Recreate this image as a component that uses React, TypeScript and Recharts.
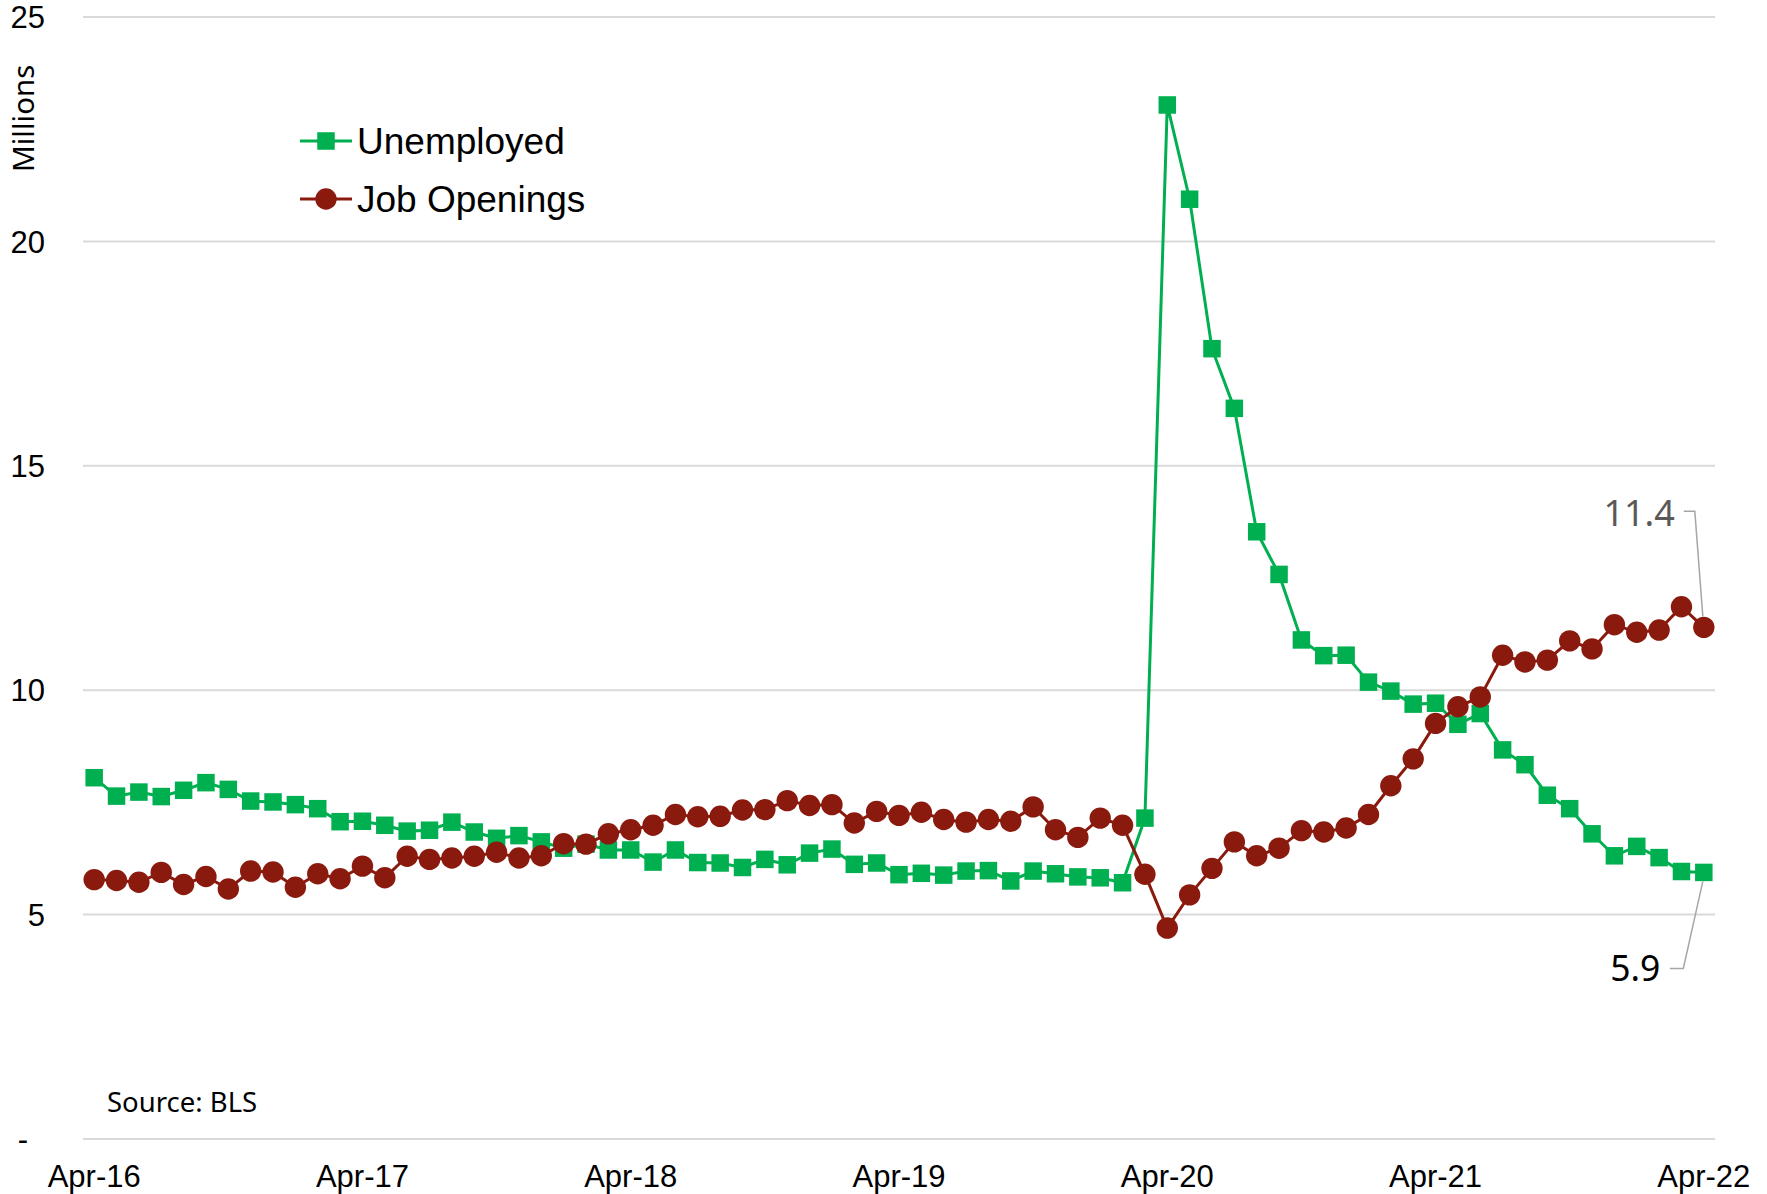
import React from "react";
import {
  LineChart,
  Line,
  XAxis,
  YAxis,
  CartesianGrid,
  LabelList,
} from "recharts";

const months = [
  "Apr-16", "May-16", "Jun-16", "Jul-16", "Aug-16", "Sep-16", "Oct-16", "Nov-16", "Dec-16",
  "Jan-17", "Feb-17", "Mar-17", "Apr-17", "May-17", "Jun-17", "Jul-17", "Aug-17", "Sep-17",
  "Oct-17", "Nov-17", "Dec-17", "Jan-18", "Feb-18", "Mar-18", "Apr-18", "May-18", "Jun-18",
  "Jul-18", "Aug-18", "Sep-18", "Oct-18", "Nov-18", "Dec-18", "Jan-19", "Feb-19", "Mar-19",
  "Apr-19", "May-19", "Jun-19", "Jul-19", "Aug-19", "Sep-19", "Oct-19", "Nov-19", "Dec-19",
  "Jan-20", "Feb-20", "Mar-20", "Apr-20", "May-20", "Jun-20", "Jul-20", "Aug-20", "Sep-20",
  "Oct-20", "Nov-20", "Dec-20", "Jan-21", "Feb-21", "Mar-21", "Apr-21", "May-21", "Jun-21",
  "Jul-21", "Aug-21", "Sep-21", "Oct-21", "Nov-21", "Dec-21", "Jan-22", "Feb-22", "Mar-22",
  "Apr-22",
];

// millions
const unemployed = [
  8.05, 7.64, 7.73, 7.63, 7.77, 7.94, 7.79, 7.53, 7.51, 7.45, 7.36, 7.07,
  7.08, 6.99, 6.86, 6.88, 7.06, 6.84, 6.7, 6.76, 6.62, 6.48, 6.57, 6.44,
  6.44, 6.17, 6.44, 6.16, 6.15, 6.05, 6.23, 6.11, 6.37, 6.46, 6.12, 6.15,
  5.89, 5.92, 5.88, 5.97, 5.98, 5.75, 5.97, 5.91, 5.84, 5.82, 5.71, 7.15,
  23.04, 20.94, 17.61, 16.28, 13.53, 12.58, 11.12, 10.77, 10.78, 10.18, 9.98, 9.69,
  9.71, 9.24, 9.48, 8.67, 8.34, 7.66, 7.36, 6.8, 6.31, 6.52, 6.27, 5.96,
  5.94,
];

const jobOpenings = [
  5.78, 5.76, 5.72, 5.94, 5.67, 5.85, 5.57, 5.97, 5.95, 5.61, 5.91, 5.8,
  6.08, 5.82, 6.3, 6.23, 6.26, 6.3, 6.39, 6.26, 6.31, 6.58, 6.57, 6.8,
  6.89, 6.99, 7.23, 7.18, 7.19, 7.33, 7.34, 7.54, 7.43, 7.45, 7.04, 7.3,
  7.21, 7.28, 7.12, 7.06, 7.12, 7.08, 7.4, 6.89, 6.72, 7.15, 6.99, 5.9,
  4.7, 5.44, 6.03, 6.62, 6.31, 6.48, 6.87, 6.84, 6.93, 7.23, 7.87, 8.47,
  9.26, 9.63, 9.85, 10.78, 10.63, 10.67, 11.1, 10.92, 11.46, 11.29, 11.34, 11.86,
  11.4,
];

const xTickLabels = ["Apr-16", "Apr-17", "Apr-18", "Apr-19", "Apr-20", "Apr-21", "Apr-22"];
const yTicks = [0, 5, 10, 15, 20, 25];

const W = 1767;
const H = 1194;
const GREEN = "#00B050";
const RED = "#8B1A0E";
const ARIAL = "'Liberation Sans', Arial, sans-serif";
const NOTO = "'Noto Sans', 'Open Sans', sans-serif";

const data = months.map((month, i) => ({
  i,
  month,
  unemployed: unemployed[i],
  jobOpenings: jobOpenings[i],
}));

const xTicks = xTickLabels.map((label) => months.indexOf(label));
const last = data.length - 1;

function YTick(props: any) {
  const { x, y, payload } = props;
  const zero = payload.value === 0;
  return (
    <text
      x={zero ? x - 17 : x}
      y={y}
      dy="0.36em"
      textAnchor="end"
      fontFamily={ARIAL}
      fontSize={31}
      fill="#000"
    >
      {zero ? "-" : payload.value}
    </text>
  );
}

function SquareDot(props: any) {
  const { cx, cy, index } = props;
  if (cx == null || cy == null) return <g key={`sq-${index}`} />;
  const s = 17.5;
  return (
    <rect key={`sq-${index}`} x={cx - s / 2} y={cy - s / 2} width={s} height={s} fill={GREEN} />
  );
}

function OpeningsEndLabel(props: any) {
  const { x, y, index, value } = props;
  if (index !== last) return null;
  return (
    <g>
      <polyline
        points={`${x - 20},${y - 116} ${x - 9},${y - 116} ${x - 1},${y - 11}`}
        fill="none"
        stroke="#A6A6A6"
        strokeWidth={1.5}
      />
      <text x={x - 29} y={y - 101} textAnchor="end" fontFamily={NOTO} fontSize={36} fill="#595959">
        {Number(value).toFixed(1)}
      </text>
    </g>
  );
}

function UnemployedEndLabel(props: any) {
  const { x, y, index, value } = props;
  if (index !== last) return null;
  return (
    <g>
      <polyline
        points={`${x - 34},${y + 96} ${x - 20.5},${y + 96} ${x - 1},${y + 9}`}
        fill="none"
        stroke="#A6A6A6"
        strokeWidth={1.5}
      />
      <text x={x - 43.5} y={y + 109} textAnchor="end" fontFamily={NOTO} fontSize={35.5} fill="#000">
        {Number(value).toFixed(1)}
      </text>
    </g>
  );
}

export default function App() {
  return (
    <div style={{ position: "absolute", left: 0, top: 0, width: W, height: H, background: "#fff" }}>
      <LineChart width={W} height={H} data={data} margin={{ top: 17, right: 52, bottom: 0, left: 0 }}>
        <CartesianGrid horizontal vertical={false} stroke="#D9D9D9" strokeWidth={2} />
        <XAxis
          dataKey="i"
          type="number"
          domain={[-0.5, 72.5]}
          ticks={xTicks}
          interval={0}
          height={55}
          axisLine={false}
          tickLine={false}
          tickSize={6}
          tickMargin={20}
          tickFormatter={(v) => months[v]}
          tick={{ fontSize: 31, fill: "#000", fontFamily: ARIAL }}
        />
        <YAxis
          type="number"
          domain={[0, 25]}
          ticks={yTicks}
          interval={0}
          width={83}
          axisLine={false}
          tickLine={false}
          tickSize={6}
          tickMargin={32}
          tick={<YTick />}
        />
        <Line
          dataKey="unemployed"
          stroke={GREEN}
          strokeWidth={3}
          dot={<SquareDot />}
          activeDot={false}
          isAnimationActive={false}
        >
          <LabelList dataKey="unemployed" content={<UnemployedEndLabel />} />
        </Line>
        <Line
          dataKey="jobOpenings"
          stroke={RED}
          strokeWidth={3}
          dot={{ r: 10.7, fill: RED, stroke: RED, strokeWidth: 0 }}
          activeDot={false}
          isAnimationActive={false}
        >
          <LabelList dataKey="jobOpenings" content={<OpeningsEndLabel />} />
        </Line>
      </LineChart>

      <svg
        width={W}
        height={H}
        style={{ position: "absolute", left: 0, top: 0, pointerEvents: "none" }}
      >
        <text
          transform="translate(33.5,118.3) rotate(-90)"
          textAnchor="middle"
          fontFamily={NOTO}
          fontSize={29.5}
          fill="#000"
        >
          Millions
        </text>

        <line x1={300} x2={352} y1={141} y2={141} stroke={GREEN} strokeWidth={3} />
        <rect x={326 - 8.75} y={141 - 8.75} width={17.5} height={17.5} fill={GREEN} />
        <text x={357} y={153.5} fontFamily={ARIAL} fontSize={37} fill="#000">
          Unemployed
        </text>

        <line x1={300} x2={352} y1={199} y2={199} stroke={RED} strokeWidth={3} />
        <circle cx={326} cy={199} r={10.7} fill={RED} />
        <text x={357} y={211.5} fontFamily={ARIAL} fontSize={37} fill="#000">
          Job Openings
        </text>

        <text x={107} y={1111.5} fontFamily={NOTO} fontSize={27.5} fill="#000">
          Source: BLS
        </text>
      </svg>
    </div>
  );
}
